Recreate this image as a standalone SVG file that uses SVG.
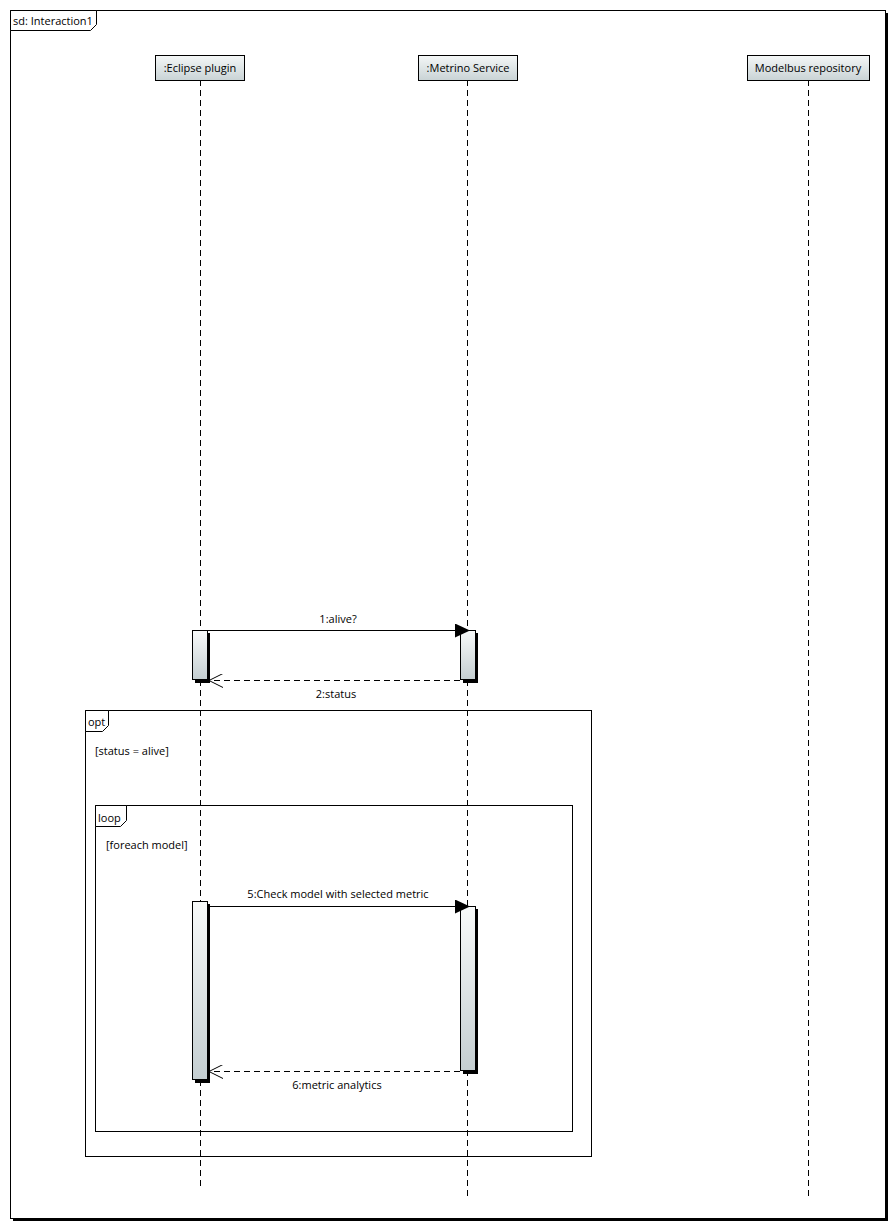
<svg xmlns="http://www.w3.org/2000/svg" width="895" height="1230" viewBox="0 0 895 1230">
<style>
text{font-family:"Open Sans","DejaVu Sans",sans-serif;font-size:11px;fill:#000}
.c{text-anchor:middle}
.ln{stroke:#000;stroke-width:1;fill:none}
.ll{stroke:#000;stroke-width:1;stroke-dasharray:6,4;fill:none}
.hd{fill:url(#hg);stroke:#000;stroke-width:1}
.act{fill:url(#ag);stroke:#000;stroke-width:1}
.sh{fill:#000}
.fr{fill:none;stroke:#000;stroke-width:1}
.tab{fill:#fff;stroke:#000;stroke-width:1}
</style>
<defs>
<linearGradient id="hg" x1="0" y1="0" x2="0" y2="1"><stop offset="0" stop-color="#f4f7f7"/><stop offset="1" stop-color="#c9d3d5"/></linearGradient>
<linearGradient id="ag" x1="0" y1="0" x2="0" y2="1"><stop offset="0" stop-color="#f8fafa"/><stop offset="1" stop-color="#c4ced1"/></linearGradient>
<marker id="fa" markerWidth="16" markerHeight="14" refX="15" refY="7" orient="auto" markerUnits="userSpaceOnUse"><path d="M0,0 L15,7 L0,14 Z" fill="#000"/></marker>
<marker id="oa" markerWidth="16" markerHeight="14" refX="15" refY="7" orient="auto" markerUnits="userSpaceOnUse"><path d="M1,0 L15,7 L1,14" fill="none" stroke="#000"/></marker>
</defs>
<rect width="895" height="1230" fill="#fff"/>
<g id="frame">
<rect x="13" y="13" width="875" height="1208" fill="#000"/>
<rect x="10.5" y="10.5" width="875" height="1208" fill="#fff" stroke="#000"/>
<path class="tab" d="M10.5,10.5 H96.5 V24.5 L90.5,30.5 H10.5 Z"/>
<text x="13" y="25">sd: Interaction1</text>
</g>
<g id="eclipse">
<line class="ll" x1="200.5" y1="80" x2="200.5" y2="1190"/>
<rect class="hd" x="155.5" y="55.5" width="89" height="25"/>
<text class="c" x="200" y="72">:Eclipse plugin</text>
</g>
<g id="metrino">
<line class="ll" x1="467.5" y1="80" x2="467.5" y2="1196"/>
<rect class="hd" x="418.5" y="55.5" width="99" height="25"/>
<text class="c" x="468" y="72">:Metrino Service</text>
</g>
<g id="modelbus">
<line class="ll" x1="808.5" y1="80" x2="808.5" y2="1196"/>
<rect class="hd" x="747.5" y="55.5" width="122" height="25"/>
<text class="c" x="808" y="72">Modelbus repository</text>
</g>
<g id="opt">
<rect class="fr" x="85.5" y="710.5" width="506" height="446"/>
<path class="tab" d="M85.5,710.5 H108.5 V725.5 L102.5,731.5 H85.5 Z"/>
<text x="88" y="726">opt</text>
<text x="95" y="755">[status = alive]</text>
</g>
<g id="loop">
<rect class="fr" x="95.5" y="805.5" width="477" height="326"/>
<path class="tab" d="M95.5,805.5 H126.5 V820.5 L120.5,826.5 H95.5 Z"/>
<text x="98" y="822">loop</text>
<text x="106" y="849">[foreach model]</text>
</g>
<g id="activations">
<rect class="sh" x="195" y="633" width="15" height="50"/>
<rect class="act" x="192.5" y="630.5" width="15" height="49"/>
<rect class="sh" x="463" y="633" width="15" height="50"/>
<rect class="act" x="460.5" y="630.5" width="15" height="49"/>
<rect class="sh" x="195" y="904" width="15" height="179"/>
<rect class="act" x="192.5" y="901.5" width="15" height="178"/>
<rect class="sh" x="463" y="909" width="15" height="165"/>
<rect class="act" x="460.5" y="906.5" width="15" height="164"/>
</g>
<g id="connectors">
<line class="ln" x1="208" y1="630.5" x2="470" y2="630.5" marker-end="url(#fa)"/>
<text class="c" x="338" y="623">1:alive?</text>
<line class="ll" x1="460" y1="680.5" x2="209" y2="680.5" marker-end="url(#oa)"/>
<text class="c" x="336" y="698">2:status</text>
<line class="ln" x1="208" y1="906.5" x2="470" y2="906.5" marker-end="url(#fa)"/>
<text class="c" x="338" y="898">5:Check model with selected metric</text>
<line class="ll" x1="460" y1="1071.5" x2="209" y2="1071.5" marker-end="url(#oa)"/>
<text class="c" x="337" y="1089">6:metric analytics</text>
</g>
</svg>
